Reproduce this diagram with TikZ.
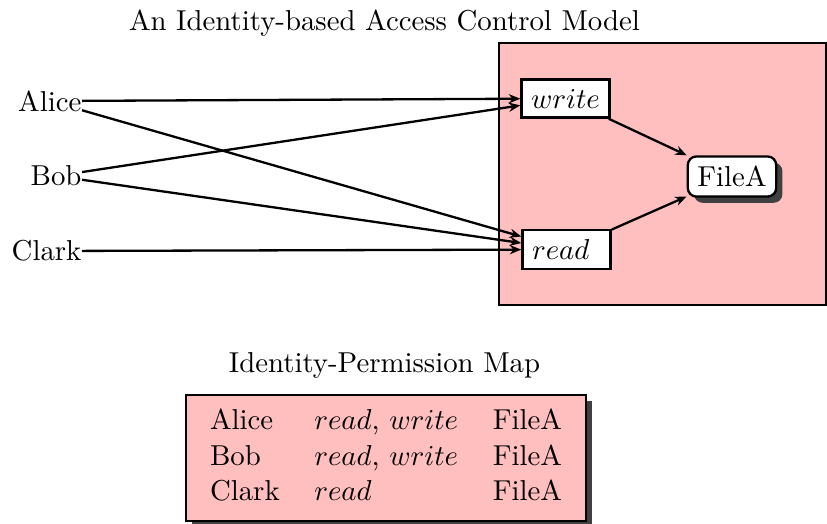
\documentclass[tikz,border=0pt]{standalone}
\usetikzlibrary{arrows.meta,shadows}

\tikzset{
  perm/.style={draw, thick, fill=white},
  subject/.style={anchor=east, inner sep=0pt},
  grant/.style={thick, -{Stealth[length=4pt,width=3.2pt,inset=1.3pt]}},
  darkshadow/.style={drop shadow={fill=black!75, opacity=1}},
  panel/.style={draw, thick, fill=red!25}
}

\begin{document}
\begin{tikzpicture}[x=0.3472pt, y=-0.3472pt]
  \useasboundingbox (0,0) rectangle (827,523);

  % upper part: subjects, permissions and the object
  \node[anchor=base] (title) at (384.5,30) {An Identity-based Access Control Model};
  \path[panel] (499,43) rectangle (826,305);

  \node[subject] (alice) at (82,101) {Alice};
  \node[subject] (bob)   at (82,176) {Bob};
  \node[subject] (clark) at (82,251) {Clark};

  \node[perm] (write) at (565.5,98.5) {$write$};
  \node[perm] (read)  at (566.5,249.5) {\rlap{$read$}\phantom{$write$}};
  \node[perm, rounded corners=3pt, darkshadow] (file) at (732,176.5) {FileA};

  \draw[grant] (alice) -- (write);
  \draw[grant] (alice) -- (read);
  \draw[grant] (bob)   -- (write);
  \draw[grant] (bob)   -- (read);
  \draw[grant] (clark) -- (read);
  \draw[grant] (write) -- (file);
  \draw[grant] (read)  -- (file);

  % lower part: the permission table
  \node[anchor=base] (maptitle) at (384.5,372) {Identity-Permission Map};
  \node[panel, darkshadow, inner xsep=2.3pt] (map) at (386,458) {%
    \renewcommand{\arraystretch}{1.03}%
    \begin{tabular}{lll}
      Alice & $read$, $write$ & FileA\\
      Bob   & $read$, $write$ & FileA\\
      Clark & $read$          & FileA
    \end{tabular}};
\end{tikzpicture}
\end{document}
